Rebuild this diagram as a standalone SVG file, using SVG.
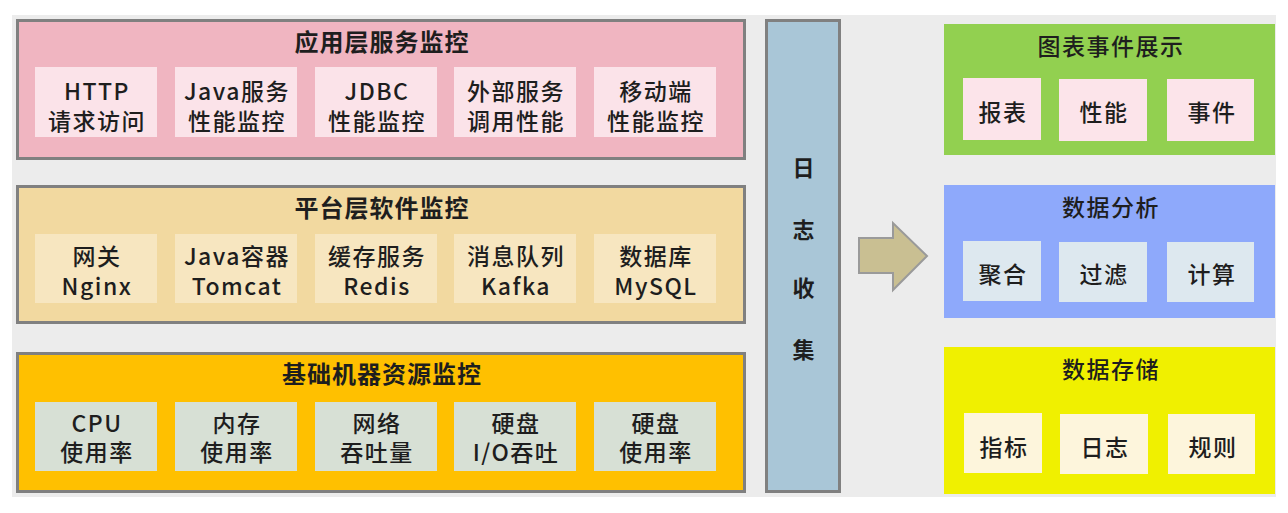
<svg xmlns="http://www.w3.org/2000/svg" width="1288" height="513" viewBox="0 0 1288 513">
<style>
text{font-family:"Noto Sans CJK SC","Noto Sans",sans-serif;fill:#1e1e1e;text-anchor:middle;font-size:23px;letter-spacing:1.5px;font-weight:500}
.t{font-weight:bold;font-size:24px;letter-spacing:1px}
.panel{stroke:#808080;stroke-width:3}
.pk{fill:#f0b5c1}.pki{fill:#fbe3e9}
.yl{fill:#f2d9a0}.yli{fill:#f7e6c0}
.or{fill:#ffc000}.ori{fill:#d7e0d5}
.col{fill:#a9c6d7}
.gr{fill:#92d050}.gri{fill:#fce4ea}
.bl{fill:#8ea9fb}.bli{fill:#dde8ef}
.ye{fill:#f0f000}.yei{fill:#fdf5dc}
</style>
<rect x="0" y="0" width="1288" height="513" fill="#ffffff"/>
<rect x="12" y="15" width="1264" height="482" fill="#ececec"/>

<g id="app-layer">
<rect class="panel pk" x="17.5" y="20.5" width="727" height="138"/>
<text class="t" x="382" y="51">应用层服务监控</text>
<rect class="pki" x="35" y="67" width="122" height="70"/>
<text x="97" y="100">HTTP</text><text x="97" y="130">请求访问</text>
<rect class="pki" x="175" y="67" width="122" height="70"/>
<text x="237" y="100">Java服务</text><text x="237" y="130">性能监控</text>
<rect class="pki" x="315" y="67" width="122" height="70"/>
<text x="377" y="100">JDBC</text><text x="377" y="130">性能监控</text>
<rect class="pki" x="454" y="67" width="122" height="70"/>
<text x="516" y="100">外部服务</text><text x="516" y="130">调用性能</text>
<rect class="pki" x="594" y="67" width="122" height="70"/>
<text x="656" y="100">移动端</text><text x="656" y="130">性能监控</text>
</g>

<g id="platform-layer">
<rect class="panel yl" x="17.5" y="186.5" width="727" height="136"/>
<text class="t" x="382" y="217">平台层软件监控</text>
<rect class="yli" x="35" y="234" width="122" height="69"/>
<text x="97" y="265">网关</text><text x="97" y="295">Nginx</text>
<rect class="yli" x="175" y="234" width="122" height="69"/>
<text x="237" y="265">Java容器</text><text x="237" y="295">Tomcat</text>
<rect class="yli" x="315" y="234" width="122" height="69"/>
<text x="377" y="265">缓存服务</text><text x="377" y="295">Redis</text>
<rect class="yli" x="454" y="234" width="122" height="69"/>
<text x="516" y="265">消息队列</text><text x="516" y="295">Kafka</text>
<rect class="yli" x="594" y="234" width="122" height="69"/>
<text x="656" y="265">数据库</text><text x="656" y="295">MySQL</text>
</g>

<g id="infra-layer">
<rect class="panel or" x="17.5" y="353.5" width="727" height="138"/>
<text class="t" x="382" y="383">基础机器资源监控</text>
<rect class="ori" x="35" y="402" width="122" height="69"/>
<text x="97" y="432">CPU</text><text x="97" y="461">使用率</text>
<rect class="ori" x="175" y="402" width="122" height="69"/>
<text x="237" y="432">内存</text><text x="237" y="461">使用率</text>
<rect class="ori" x="315" y="402" width="122" height="69"/>
<text x="377" y="432">网络</text><text x="377" y="461">吞吐量</text>
<rect class="ori" x="454" y="402" width="122" height="69"/>
<text x="516" y="432">硬盘</text><text x="516" y="461">I/O吞吐</text>
<rect class="ori" x="594" y="402" width="122" height="69"/>
<text x="656" y="432">硬盘</text><text x="656" y="461">使用率</text>
</g>

<g id="log-collect">
<rect class="panel col" x="766.5" y="20.5" width="73" height="471"/>
<text class="t" x="804" y="176" style="font-size:22px">日</text>
<text class="t" x="804" y="238" style="font-size:22px">志</text>
<text class="t" x="804" y="296" style="font-size:22px">收</text>
<text class="t" x="804" y="358" style="font-size:22px">集</text>
</g>

<g id="connectors">
<polygon points="859,238 893,238 893,223 927,256 893,290 893,273 859,273" fill="#c9bf92" stroke="#9a9a9a" stroke-width="2" stroke-linejoin="miter"/>
</g>

<g id="chart-display">
<rect class="gr" x="944" y="24" width="331" height="131"/>
<text x="1111" y="55">图表事件展示</text>
<rect class="gri" x="963" y="78" width="78" height="62"/>
<text x="1003" y="121">报表</text>
<rect class="gri" x="1059" y="79" width="88" height="62"/>
<text x="1104" y="121">性能</text>
<rect class="gri" x="1167" y="79" width="87" height="62"/>
<text x="1212" y="121">事件</text>
</g>

<g id="data-analysis">
<rect class="bl" x="944" y="185" width="331" height="133"/>
<text x="1111" y="216">数据分析</text>
<rect class="bli" x="963" y="241" width="78" height="60"/>
<text x="1003" y="283">聚合</text>
<rect class="bli" x="1059" y="242" width="88" height="60"/>
<text x="1104" y="283">过滤</text>
<rect class="bli" x="1167" y="242" width="87" height="60"/>
<text x="1212" y="283">计算</text>
</g>

<g id="data-storage">
<rect class="ye" x="944" y="347" width="331" height="147"/>
<text x="1111" y="378">数据存储</text>
<rect class="yei" x="964" y="413" width="78" height="60"/>
<text x="1004" y="456">指标</text>
<rect class="yei" x="1060" y="414" width="88" height="60"/>
<text x="1105" y="456">日志</text>
<rect class="yei" x="1168" y="414" width="87" height="60"/>
<text x="1213" y="456">规则</text>
</g>
</svg>
